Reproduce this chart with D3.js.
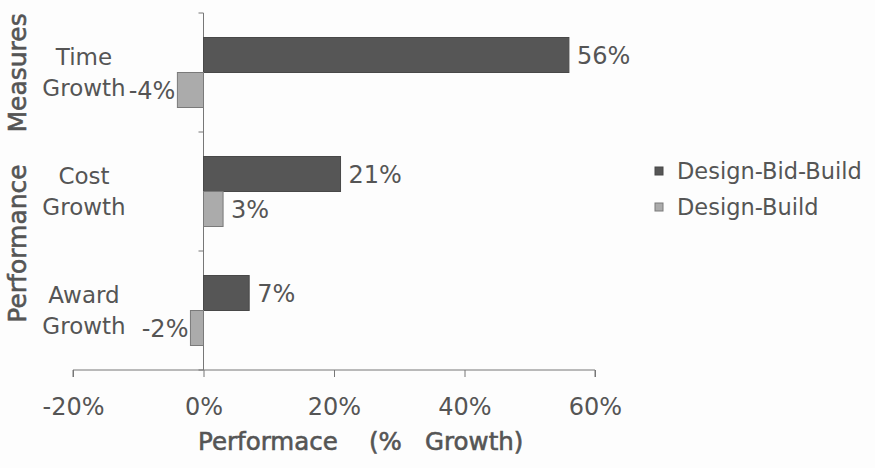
<!DOCTYPE html>
<html><head><meta charset="utf-8">
<script src="https://cdn.jsdelivr.net/npm/d3@7"></script>
<style>body{margin:0;background:#fdfdfd;} svg{display:block;}</style>
</head><body>
<svg id="c" width="875" height="468"></svg>
<script>
const categories = [["Time", "Growth"], ["Cost", "Growth"], ["Award", "Growth"]];
const categoryKeys = ["Time Growth", "Cost Growth", "Award Growth"];
const seriesNames = ["Design-Bid-Build", "Design-Build"];
const dbbValues = [56, 21, 7];
const dbValues = [-4, 3, -2];
const xTicks = [-20, 0, 20, 40, 60];
const xTitle = "Performace\u00a0\u00a0\u00a0\u00a0(%\u00a0\u00a0\u00a0Growth)";
const yTitle = "Performance\u00a0\u00a0\u00a0\u00a0Measures";

const svg = d3.select("#c");
const font = "'DejaVu Sans', Verdana, sans-serif";
const textCol = "#555";
const axisCol = "#777";
const colors = ["#565656", "#ababab"];
const strokes = ["#484848", "#7a7a7a"];

const x = d3.scaleLinear().domain([-20, 60]).range([73, 595]);
const y = d3.scaleBand().domain(categoryKeys).range([13, 370]).padding(0);
const barH = 35;

// x axis
const xAxis = svg.append("g").attr("transform", `translate(0,370)`)
  .call(d3.axisBottom(x).tickValues(xTicks).tickSize(7).tickFormat(d => d + "%"));
xAxis.select(".domain").attr("stroke", axisCol).attr("d", `M${x(-20)},7V0H${x(60)}V7`);
xAxis.selectAll(".tick line").attr("stroke", axisCol);
xAxis.selectAll(".tick text").attr("fill", textCol).attr("font-family", font).attr("font-size", 24)
  .attr("y", 45).attr("dy", 0);

// y axis
const yAxis = svg.append("g").attr("transform", `translate(${x(0)},0)`)
  .call(d3.axisLeft(y).tickSize(0).tickFormat(""));
yAxis.select(".domain").attr("stroke", axisCol).attr("d", `M0,13V370`);
const bounds = categoryKeys.map(k => y(k)).concat([y.range()[1]]);
yAxis.selectAll(".bt").data(bounds).enter().append("line")
  .attr("x1", -5).attr("x2", 0).attr("y1", d => d).attr("y2", d => d).attr("stroke", axisCol);

// bars
const series = [dbbValues, dbValues];
series.forEach((vals, si) => {
  svg.append("g").selectAll("rect").data(vals).enter().append("rect")
    .attr("x", d => x(Math.min(0, d)))
    .attr("width", d => Math.abs(x(d) - x(0)))
    .attr("y", (d, i) => y(categoryKeys[i]) + y.bandwidth() / 2 - barH + si * barH)
    .attr("height", barH)
    .attr("fill", colors[si]).attr("stroke", strokes[si]).attr("stroke-width", 1);
  svg.append("g").selectAll("text").data(vals).enter().append("text")
    .attr("x", d => d >= 0 ? x(d) + 8 : x(d) - 2)
    .attr("y", (d, i) => y(categoryKeys[i]) + y.bandwidth() / 2 - barH / 2 + si * barH)
    .attr("dy", "0.36em")
    .attr("text-anchor", d => d >= 0 ? "start" : "end")
    .attr("fill", textCol).attr("font-family", font).attr("font-size", 24)
    .text(d => d + "%");
});

// category labels
categories.forEach((lines, i) => {
  const cy = y(categoryKeys[i]) + y.bandwidth() / 2;
  const t = svg.append("text").attr("text-anchor", "middle")
    .attr("fill", textCol).attr("font-family", font).attr("font-size", 23);
  lines.forEach((l, j) => {
    t.append("tspan").attr("x", 84).attr("y", cy - 8 + j * 31).text(l);
  });
});

// titles
svg.append("text").attr("x", 198).attr("y", 450).attr("text-anchor", "start")
  .attr("fill", textCol).attr("stroke", textCol).attr("stroke-width", 0.6)
  .attr("font-family", font).attr("font-size", 24.5)
  .text(xTitle);
svg.append("text").attr("transform", "translate(26,168) rotate(-90)").attr("text-anchor", "middle")
  .attr("fill", textCol).attr("stroke", textCol).attr("stroke-width", 0.6)
  .attr("font-family", font).attr("font-size", 25)
  .text(yTitle);

// legend
const lg = svg.append("g").attr("transform", "translate(655,0)");
seriesNames.forEach((n, i) => {
  const ly = 171 + i * 36;
  lg.append("rect").attr("x", 0).attr("y", ly - 4).attr("width", 8).attr("height", 8)
    .attr("fill", colors[i]).attr("stroke", strokes[i]);
  lg.append("text").attr("x", 22).attr("y", ly).attr("dy", "0.36em")
    .attr("fill", textCol).attr("font-family", font).attr("font-size", 22.5).text(n);
});
</script>
</body></html>
